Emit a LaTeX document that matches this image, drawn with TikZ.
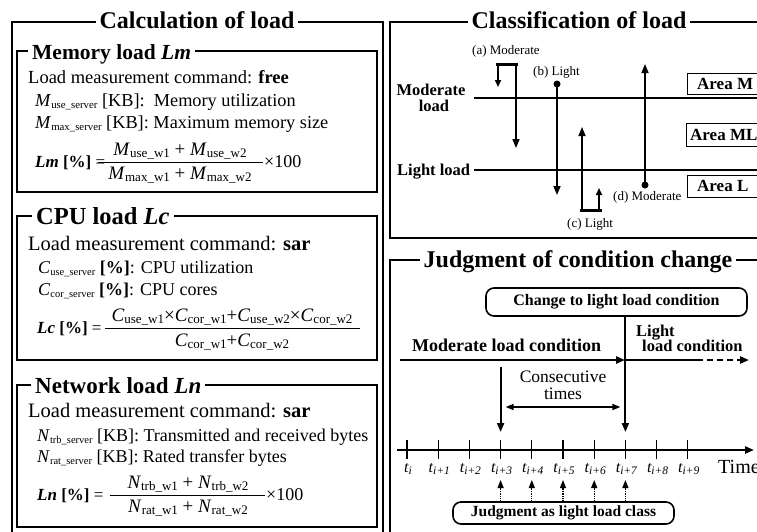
\documentclass[tikz,border=0pt]{standalone}
\usepackage{fontspec}
\setmainfont{Liberation Serif}
\usetikzlibrary{arrows.meta}
\newcommand{\fsz}[1]{\fontsize{#1}{#1}\selectfont}
\newcommand{\vsb}[3]{\textit{#1}\raisebox{-0.3ex}{\fsz{#3}#2}}
\begin{document}
\begin{tikzpicture}[x=1pt,y=-1pt,
  frame/.style={line width=1.5pt},
  ttl/.style={fill=white, inner xsep=4pt, inner ysep=1pt, font=\fsz{24}\bfseries, anchor=base},
  sttl/.style={fill=white, inner xsep=4pt, inner ysep=1pt, font=\fsz{22}\bfseries, anchor=base west},
  txt/.style={inner sep=0pt, anchor=base west},
  ctxt/.style={inner sep=0pt, anchor=base},
  arr/.style={-{Triangle[width=7pt,length=9pt]}},
  sarr/.style={-{Triangle[width=6pt,length=7pt]}},
  bigline/.style={line width=2.4pt},
  midline/.style={line width=1.6pt},
  areabox/.style={draw, line width=1pt, minimum height=21pt, inner sep=0pt},
  rbox/.style={draw, line width=1.6pt, rounded corners=8pt, inner sep=0pt},
  tick/.style={line width=1.2pt}
]
\useasboundingbox (0,0) rectangle (757,531);
\clip (0,0) rectangle (757,531);

% ===== Left: Calculation of load =====
\draw[frame] (12,545) -- (12,22) -- (383,22) -- (383,545);
\node[ttl] (tcalc) at (197,28) {Calculation of load};

% Memory
\draw[frame] (17,51) rectangle (377,192);
\node[sttl, font=\fsz{21.5}\bfseries] (tmem) at (28,59) {Memory load \textit{Lm}};
\node[txt, font=\fsz{18.5}] (mcmd) at (28,83) {Load measurement command: \textbf{free}};
\node[txt, font=\fsz{18.3}] (mv1) at (35,106) {\vsb{M}{use\_server}{10.8} [KB]:\ \ Memory utilization};
\node[txt, font=\fsz{18.3}] (mv2) at (35,128) {\vsb{M}{max\_server}{10.8} [KB]: Maximum memory size};
\node[txt, font=\fsz{17}] (mlhs) at (35,167) {\textbf{\textit{Lm}} \textbf{[\%]} =};
\node[ctxt, font=\fsz{19}] (mnum) at (180,155) {\vsb{M}{use\_w1}{13} + \vsb{M}{use\_w2}{13}};
\node[ctxt, font=\fsz{19}] (mden) at (180,179) {\vsb{M}{max\_w1}{13} + \vsb{M}{max\_w2}{13}};
\draw[line width=0.8pt] (98,162) -- (263,162);
\node[txt, font=\fsz{18}] (m100) at (264,167) {×100};

% CPU
\draw[frame] (17,216) rectangle (377,360);
\node[sttl, font=\fsz{24.5}\bfseries] (tcpu) at (32,224) {CPU load \textit{Lc}};
\node[txt, font=\fsz{20.5}] (ccmd) at (28,250) {Load measurement command: \textbf{sar}};
\node[txt, font=\fsz{18}] (cv1) at (38,273) {\vsb{C}{use\_server}{10.5} \textbf{[\%]}: CPU utilization};
\node[txt, font=\fsz{18}] (cv2) at (38,295) {\vsb{C}{cor\_server}{10.5} \textbf{[\%]}: CPU cores};
\node[txt, font=\fsz{17}] (clhs) at (37,333) {\textbf{\textit{Lc}} \textbf{[\%]} =};
\node[ctxt, font=\fsz{19}] (cnum) at (232,321) {\vsb{C}{use\_w1}{13}×\vsb{C}{cor\_w1}{13}+\vsb{C}{use\_w2}{13}×\vsb{C}{cor\_w2}{13}};
\node[ctxt, font=\fsz{19}] (cden) at (232,346) {\vsb{C}{cor\_w1}{13}+\vsb{C}{cor\_w2}{13}};
\draw[line width=0.8pt] (105,328) -- (360,328);

% Network
\draw[frame] (17,385) rectangle (377,527);
\node[sttl, font=\fsz{23}\bfseries] (tnet) at (31,393) {Network load \textit{Ln}};
\node[txt, font=\fsz{20.5}] (ncmd) at (28,417) {Load measurement command: \textbf{sar}};
\node[txt, font=\fsz{18}] (nv1) at (37,441) {\vsb{N}{trb\_server}{10.5} [KB]: Transmitted and received bytes};
\node[txt, font=\fsz{18}] (nv2) at (37,462) {\vsb{N}{rat\_server}{10.5} [KB]: Rated transfer bytes};
\node[txt, font=\fsz{17}] (nlhs) at (37,500) {\textbf{\textit{Ln}} \textbf{[\%]} =};
\node[ctxt, font=\fsz{19}] (nnum) at (188,488) {\vsb{N}{trb\_w1}{13} + \vsb{N}{trb\_w2}{13}};
\node[ctxt, font=\fsz{19}] (nden) at (188,512) {\vsb{N}{rat\_w1}{13} + \vsb{N}{rat\_w2}{13}};
\draw[line width=0.8pt] (110,495) -- (265,495);
\node[txt, font=\fsz{18}] (n100) at (266,500) {×100};

% ===== Right top: Classification of load =====
\draw[frame] (780,238) -- (390,238) -- (390,22) -- (780,22);
\node[ttl] (tcls) at (579,28) {Classification of load};

\coordinate (modL) at (474,98);
\coordinate (modR) at (770,98);
\coordinate (ligL) at (474,170);
\coordinate (ligR) at (770,170);
\draw[bigline] (modL) -- (modR);
\draw[bigline] (ligL) -- (ligR);
\node[ctxt, font=\fsz{16.5}\bfseries] (lmod1) at (431,95) {Moderate};
\node[ctxt, font=\fsz{16.5}\bfseries] (lmod2) at (434,111) {load};
\node[txt, font=\fsz{16.5}\bfseries] (llig) at (397,175) {Light load};

% (a)
\node[txt, font=\fsz{13}] (la) at (472,54) {(a) Moderate};
\coordinate (a1) at (498,64);
\coordinate (a2) at (516,64);
\coordinate (a1e) at (498,87);
\coordinate (a2e) at (516,148);
\draw[line width=3pt] ([xshift=-2pt]a1) -- ([xshift=2pt]a2);
\draw[midline, sarr] (a1) -- (a1e);
\draw[midline, arr] (a2) -- (a2e);

% (b)
\node[txt, font=\fsz{13}] (lb) at (533,75) {(b) Light};
\coordinate (b1) at (557,84);
\coordinate (b1e) at (557,195);
\fill (b1) circle (3.5pt);
\draw[midline, arr] (b1) -- (b1e);

% (c)
\node[txt, font=\fsz{13}] (lc) at (567,227) {(c) Light};
\coordinate (c1) at (582,210);
\coordinate (c2) at (599,210);
\coordinate (c1e) at (582,127);
\coordinate (c2e) at (599,188);
\draw[line width=3pt] ([xshift=-2pt]c1) -- ([xshift=3pt]c2);
\draw[midline, arr] (c1) -- (c1e);
\draw[midline, sarr] (c2) -- (c2e);

% (d)
\node[txt, font=\fsz{13}] (ld) at (613,200) {(d) Moderate};
\coordinate (d1) at (645,185);
\coordinate (d1e) at (645,64);
\fill (d1) circle (3.5pt);
\draw[midline, arr] (d1) -- (d1e);

% Areas
\node[areabox, anchor=north west, minimum width=100pt] (aM) at (687,73) {};
\node[txt, font=\fsz{17}\bfseries] (taM) at (697,89) {Area M};
\node[areabox, anchor=north west, minimum width=100pt, minimum height=23pt] (aML) at (686,123) {};
\node[txt, font=\fsz{17}\bfseries] (taML) at (690,140) {Area ML};
\node[areabox, anchor=north west, minimum width=100pt, minimum height=22pt] (aL) at (687,175) {};
\node[txt, font=\fsz{17}\bfseries] (taL) at (697,191) {Area L};

% ===== Right bottom: Judgment of condition change =====
\draw[frame] (780,260) -- (390,260) -- (390,545);
\node[ttl] (tjud) at (578,267) {Judgment of condition change};

\node[rbox, minimum width=261pt, minimum height=28pt, font=\fsz{16}\bfseries] (chg) at (616.5,302) {Change to light load condition};
\node[txt, font=\fsz{18}\bfseries] (lmodc) at (412,351) {Moderate load condition};
\node[txt, font=\fsz{16.5}\bfseries] (llight) at (636,336) {Light};
\node[txt, font=\fsz{16.5}\bfseries] (llc) at (642,351) {load condition};

\coordinate (h0) at (400,360);
\coordinate (hc) at (625,360);
\coordinate (hd) at (697,360);
\coordinate (he) at (749,360);
\draw[bigline, arr] (h0) -- (hc);
\draw[bigline] (hc) -- (hd);
\draw[bigline, dashed, dash pattern=on 6pt off 4pt, arr] (hd) -- (he);

\coordinate (tl0) at (397,450);
\coordinate (tle) at (754,450);
\draw[bigline, arr] (tl0) -- (tle);

\foreach \k/\lab in {0/{i}, 1/{i+1}, 2/{i+2}, 3/{i+3}, 4/{i+4}, 5/{i+5}, 6/{i+6}, 7/{i+7}, 8/{i+8}, 9/{i+9}} {
  \coordinate (tk\k) at ({407+31.2*\k},450);
  \draw[tick] ([yshift=10pt]tk\k) -- ([yshift=-9pt]tk\k);
  \node[ctxt, font=\fsz{16}\itshape] (tt\k) at ({408+31.2*\k},472) {t\raisebox{-0.35ex}{\fsz{11.5}\lab}};
}
\node[txt, font=\fsz{20}] (ttime) at (718,473) {Time};

% change arrow down
\draw[line width=2pt, arr] (chg.south -| tk7) -- ([yshift=18pt]tk7);
\coordinate (s3) at (502,367);
\draw[line width=2pt, arr] (s3 -| tk3) -- ([yshift=18pt]tk3);

\node[ctxt, font=\fsz{17.5}] (cons1) at (563,382.5) {Consecutive};
\node[ctxt, font=\fsz{17.5}] (cons2) at (563,399) {times};
\draw[line width=1.5pt, {Triangle[width=6pt,length=8pt]}-{Triangle[width=6pt,length=8pt]}] ([xshift=5pt,yshift=43pt]tk3) -- ([xshift=-5pt,yshift=43pt]tk7);

\node[rbox, minimum width=221pt, minimum height=22pt, font=\fsz{15.5}\bfseries] (jdg) at (563.5,513) {Judgment as light load class};
\foreach \k in {3,4,5,6,7} {
  \draw[line width=1.2pt, densely dotted, -{Triangle[width=6pt,length=8pt]}] (jdg.north -| tk\k) -- ([yshift=-30pt]tk\k);
}
\end{tikzpicture}
\end{document}
